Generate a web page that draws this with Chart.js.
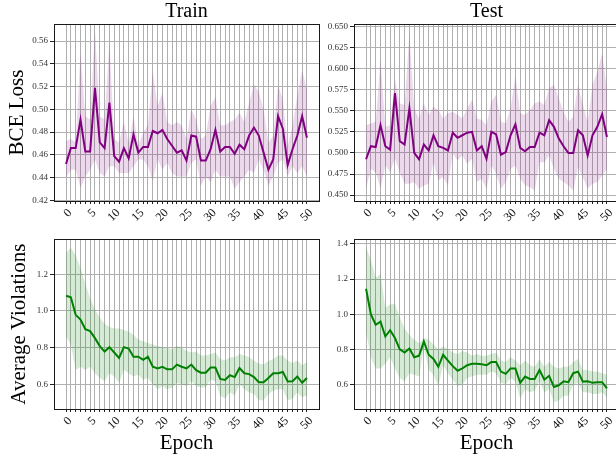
<!DOCTYPE html>
<html>
<head>
<meta charset="utf-8">
<script src="https://cdn.jsdelivr.net/npm/chart.js@4.4.0/dist/chart.umd.min.js"></script>
<style>
  html, body { margin: 0; padding: 0; background: #fff; overflow: hidden; }
  #wrap { position: relative; width: 616px; height: 463px; overflow: hidden; }
  canvas { position: absolute; }
</style>
</head>
<body>
<div id="wrap">
  <canvas id="trainLoss" width="320" height="232" style="left:0px;top:0px"></canvas>
  <canvas id="testLoss" width="300" height="232" style="left:320px;top:0px"></canvas>
  <canvas id="trainViol" width="320" height="231" style="left:0px;top:232px"></canvas>
  <canvas id="testViol" width="300" height="231" style="left:320px;top:232px"></canvas>
</div>
<script>
// epochs and tick labels
const epochs = [0,1,2,3,4,5,6,7,8,9,10,11,12,13,14,15,16,17,18,19,20,21,22,23,24,25,
  26,27,28,29,30,31,32,33,34,35,36,37,38,39,40,41,42,43,44,45,46,47,48,49,50];
const epochLabels = [0,5,10,15,20,25,30,35,40,45,50];
const ticksTrainLoss = [0.42,0.44,0.46,0.48,0.50,0.52,0.54,0.56];
const ticksTestLoss = [0.45,0.475,0.50,0.525,0.55,0.575,0.60,0.625,0.65];
const ticksTrainViol = [0.6,0.8,1.0,1.2];
const ticksTestViol = [0.6,0.8,1.0,1.2,1.4];

// BCE loss, train
const trainLossMean = [0.452,0.466,0.466,0.491,0.463,0.463,0.519,0.471,0.466,0.506,0.459,0.454,0.466,0.457,0.478,0.462,0.467,0.467,0.481,0.479,0.482,0.474,0.468,0.462,0.464,0.455,0.477,0.476,0.455,0.455,0.465,0.482,0.463,0.467,0.467,0.461,0.469,0.465,0.477,0.484,0.477,0.462,0.447,0.456,0.494,0.483,0.451,0.465,0.477,0.494,0.475];
const trainLossUpper = [0.472,0.474,0.471,0.550,0.494,0.491,0.571,0.494,0.491,0.559,0.474,0.471,0.489,0.471,0.494,0.468,0.480,0.486,0.533,0.503,0.515,0.489,0.486,0.489,0.486,0.474,0.500,0.491,0.474,0.477,0.503,0.511,0.486,0.486,0.489,0.491,0.497,0.489,0.506,0.522,0.515,0.500,0.471,0.477,0.521,0.509,0.468,0.486,0.512,0.534,0.518];
const trainLossLower = [0.440,0.447,0.447,0.431,0.441,0.447,0.456,0.444,0.441,0.450,0.450,0.444,0.444,0.444,0.450,0.456,0.456,0.450,0.437,0.456,0.447,0.453,0.444,0.441,0.441,0.441,0.453,0.456,0.433,0.441,0.436,0.447,0.441,0.441,0.441,0.430,0.436,0.441,0.447,0.444,0.456,0.447,0.433,0.441,0.453,0.456,0.441,0.450,0.444,0.450,0.441];

// BCE loss, test
const testLossMean = [0.4925,0.508,0.507,0.533,0.508,0.504,0.571,0.514,0.510,0.553,0.500,0.4925,0.510,0.503,0.521,0.508,0.506,0.503,0.524,0.518,0.521,0.524,0.525,0.503,0.508,0.493,0.525,0.522,0.498,0.501,0.521,0.534,0.506,0.502,0.507,0.507,0.524,0.521,0.539,0.531,0.517,0.508,0.500,0.500,0.527,0.521,0.497,0.521,0.531,0.546,0.519];
const testLossUpper = [0.533,0.535,0.537,0.610,0.531,0.533,0.588,0.559,0.557,0.642,0.553,0.541,0.559,0.545,0.555,0.551,0.541,0.547,0.549,0.545,0.541,0.553,0.563,0.541,0.539,0.533,0.561,0.569,0.537,0.535,0.553,0.592,0.547,0.545,0.551,0.559,0.561,0.557,0.577,0.581,0.565,0.549,0.537,0.543,0.581,0.557,0.537,0.581,0.596,0.618,0.577];
const testLossLower = [0.4575,0.481,0.477,0.4575,0.485,0.477,0.493,0.477,0.4635,0.4635,0.4655,0.4575,0.4615,0.4635,0.489,0.4675,0.471,0.4615,0.499,0.491,0.497,0.487,0.493,0.4655,0.4695,0.4575,0.485,0.475,0.4575,0.4655,0.481,0.485,0.4695,0.4615,0.4595,0.4555,0.489,0.489,0.497,0.481,0.4695,0.4655,0.4615,0.4555,0.483,0.471,0.4575,0.4635,0.4655,0.473,0.481];

// average violations, train
const trainViolMean = [1.083,1.075,0.979,0.953,0.901,0.890,0.852,0.809,0.779,0.803,0.774,0.744,0.803,0.795,0.751,0.751,0.734,0.751,0.696,0.687,0.696,0.682,0.682,0.708,0.696,0.687,0.708,0.678,0.664,0.664,0.692,0.692,0.630,0.624,0.650,0.640,0.689,0.661,0.656,0.640,0.612,0.612,0.635,0.661,0.661,0.668,0.616,0.617,0.643,0.609,0.635];
const trainViolUpper = [1.318,1.343,1.304,1.235,1.148,1.070,1.009,0.965,0.930,0.913,0.904,0.904,0.896,0.887,0.870,0.843,0.835,0.826,0.817,0.809,0.803,0.800,0.791,0.809,0.800,0.783,0.774,0.779,0.757,0.757,0.765,0.774,0.739,0.730,0.748,0.748,0.765,0.757,0.748,0.730,0.713,0.710,0.727,0.739,0.757,0.757,0.730,0.717,0.730,0.704,0.722];
const trainViolLower = [0.861,0.817,0.678,0.696,0.678,0.696,0.661,0.635,0.617,0.661,0.643,0.609,0.678,0.661,0.643,0.652,0.626,0.635,0.600,0.574,0.591,0.574,0.583,0.609,0.600,0.591,0.617,0.591,0.583,0.583,0.626,0.617,0.539,0.522,0.557,0.539,0.600,0.574,0.557,0.548,0.513,0.513,0.548,0.565,0.574,0.574,0.513,0.522,0.557,0.530,0.539];

// average violations, test
const testViolMean = [1.145,1.000,0.940,0.958,0.873,0.909,0.864,0.800,0.782,0.805,0.755,0.764,0.845,0.769,0.745,0.700,0.769,0.736,0.704,0.678,0.691,0.709,0.718,0.718,0.715,0.709,0.727,0.727,0.673,0.660,0.691,0.691,0.609,0.645,0.631,0.631,0.682,0.627,0.649,0.585,0.595,0.618,0.613,0.664,0.673,0.616,0.618,0.609,0.613,0.613,0.578];
const testViolUpper = [1.382,1.309,1.209,1.227,1.036,1.055,1.060,0.982,0.918,0.882,0.855,0.836,0.864,0.855,0.827,0.800,0.818,0.800,0.782,0.773,0.791,0.782,0.764,0.773,0.764,0.764,0.773,0.782,0.736,0.727,0.755,0.736,0.709,0.736,0.709,0.700,0.745,0.700,0.727,0.700,0.691,0.700,0.700,0.727,0.745,0.682,0.682,0.673,0.673,0.664,0.655];
const testViolLower = [0.900,0.755,0.691,0.691,0.718,0.755,0.691,0.636,0.618,0.664,0.655,0.645,0.809,0.682,0.655,0.591,0.709,0.664,0.627,0.591,0.600,0.636,0.645,0.655,0.655,0.655,0.673,0.664,0.609,0.600,0.636,0.618,0.518,0.573,0.555,0.564,0.618,0.555,0.573,0.500,0.509,0.536,0.536,0.600,0.609,0.555,0.555,0.545,0.545,0.555,0.527];

const serif = "'Liberation Serif', 'DejaVu Serif', serif";
const gridColor = '#b0b0b0';

// caja negra alrededor del area del grafico, como los spines de matplotlib
const cajaPlugin = {
  id: 'caja',
  afterDraw(chart) {
    const a = chart.chartArea;
    const ctx = chart.ctx;
    ctx.save();
    ctx.strokeStyle = '#1a1a1a';
    ctx.lineWidth = 1;
    ctx.strokeRect(Math.round(a.left) + 0.5, Math.round(a.top) + 0.5,
      Math.round(a.right - a.left), Math.round(a.bottom - a.top));
    ctx.restore();
  }
};

function panel(id, cfg) {
  const pts = arr => epochs.map((e, i) => ({ x: e, y: arr[i] }));
  return new Chart(document.getElementById(id), {
    type: 'line',
    data: {
      datasets: [
        { data: pts(cfg.upper), borderWidth: 0, pointRadius: 0, fill: '+1', backgroundColor: cfg.band },
        { data: pts(cfg.lower), borderWidth: 0, pointRadius: 0, fill: false },
        { data: pts(cfg.mean), borderColor: cfg.color, borderWidth: 2, pointRadius: 0, fill: false, tension: 0 }
      ]
    },
    options: {
      responsive: false,
      animation: false,
      events: [],
      layout: { autoPadding: false, padding: { left: 0, right: cfg.padRight, top: 0, bottom: 0 } },
      plugins: {
        legend: { display: false },
        tooltip: { enabled: false },
        title: cfg.title ? {
          display: true, text: cfg.title, color: '#000', fullSize: false,
          font: { family: serif, size: 20, weight: 'normal', lineHeight: '20px' },
          padding: { top: 2, bottom: 2 }
        } : { display: false }
      },
      scales: {
        x: {
          type: 'linear', min: -2.5, max: 52.5,
          afterBuildTicks: s => { s.ticks = epochs.map(v => ({ value: v })); },
          afterFit: s => { s.height = cfg.xHeight; },
          grid: { color: gridColor, tickColor: '#222', tickLength: 3, lineWidth: 1 },
          border: { display: false },
          ticks: {
            autoSkip: false, minRotation: 45, maxRotation: 45, padding: 2, labelOffset: 4,
            color: '#111', font: { family: serif, size: 12 },
            callback: v => epochLabels.includes(v) ? String(v) : ''
          },
          title: cfg.xTitle ? {
            display: true, text: cfg.xTitle, color: '#000',
            font: { family: serif, size: 21, lineHeight: '21px' },
            padding: { top: 0, bottom: 9 }
          } : { display: false }
        },
        y: {
          min: cfg.yMin, max: cfg.yMax,
          afterBuildTicks: s => { s.ticks = cfg.yTicks.map(v => ({ value: v })); },
          afterFit: s => { s.width = cfg.yWidth; },
          grid: { color: gridColor, tickColor: '#222', tickLength: 4, lineWidth: 1 },
          border: { display: false },
          ticks: {
            padding: 2, color: '#333', font: { family: serif, size: 9 },
            callback: v => v.toFixed(cfg.dec)
          },
          title: cfg.yTitle ? {
            display: true, text: cfg.yTitle, color: '#000',
            font: { family: serif, size: 21, lineHeight: '21px' },
            padding: { top: cfg.yTitlePad, bottom: 0 }
          } : { display: false }
        }
      }
    },
    plugins: [cajaPlugin]
  });
}

const purple = '#800080';
const purpleBand = 'rgba(128, 0, 128, 0.15)';
const green = '#008000';
const greenBand = 'rgba(0, 128, 0, 0.16)';

panel('trainLoss', {
  mean: trainLossMean, upper: trainLossUpper, lower: trainLossLower,
  color: purple, band: purpleBand, title: 'Train',
  yMin: 0.4195, yMax: 0.575, yTicks: ticksTrainLoss, dec: 2,
  yWidth: 54, yTitle: 'BCE Loss', yTitlePad: 7, xHeight: 31, padRight: 1
});
panel('testLoss', {
  mean: testLossMean, upper: testLossUpper, lower: testLossLower,
  color: purple, band: purpleBand, title: 'Test',
  yMin: 0.443, yMax: 0.653, yTicks: ticksTestLoss, dec: 3,
  yWidth: 34, xHeight: 31, padRight: 1
});
panel('trainViol', {
  mean: trainViolMean, upper: trainViolUpper, lower: trainViolLower,
  color: green, band: greenBand,
  yMin: 0.466, yMax: 1.39, yTicks: ticksTrainViol, dec: 1,
  yWidth: 54, yTitle: 'Average Violations', yTitlePad: 9, xHeight: 54, xTitle: 'Epoch', padRight: 1
});
panel('testViol', {
  mean: testViolMean, upper: testViolUpper, lower: testViolLower,
  color: green, band: greenBand,
  yMin: 0.46, yMax: 1.426, yTicks: ticksTestViol, dec: 1,
  yWidth: 34, xHeight: 54, xTitle: 'Epoch', padRight: 1
});
</script>
</body>
</html>
